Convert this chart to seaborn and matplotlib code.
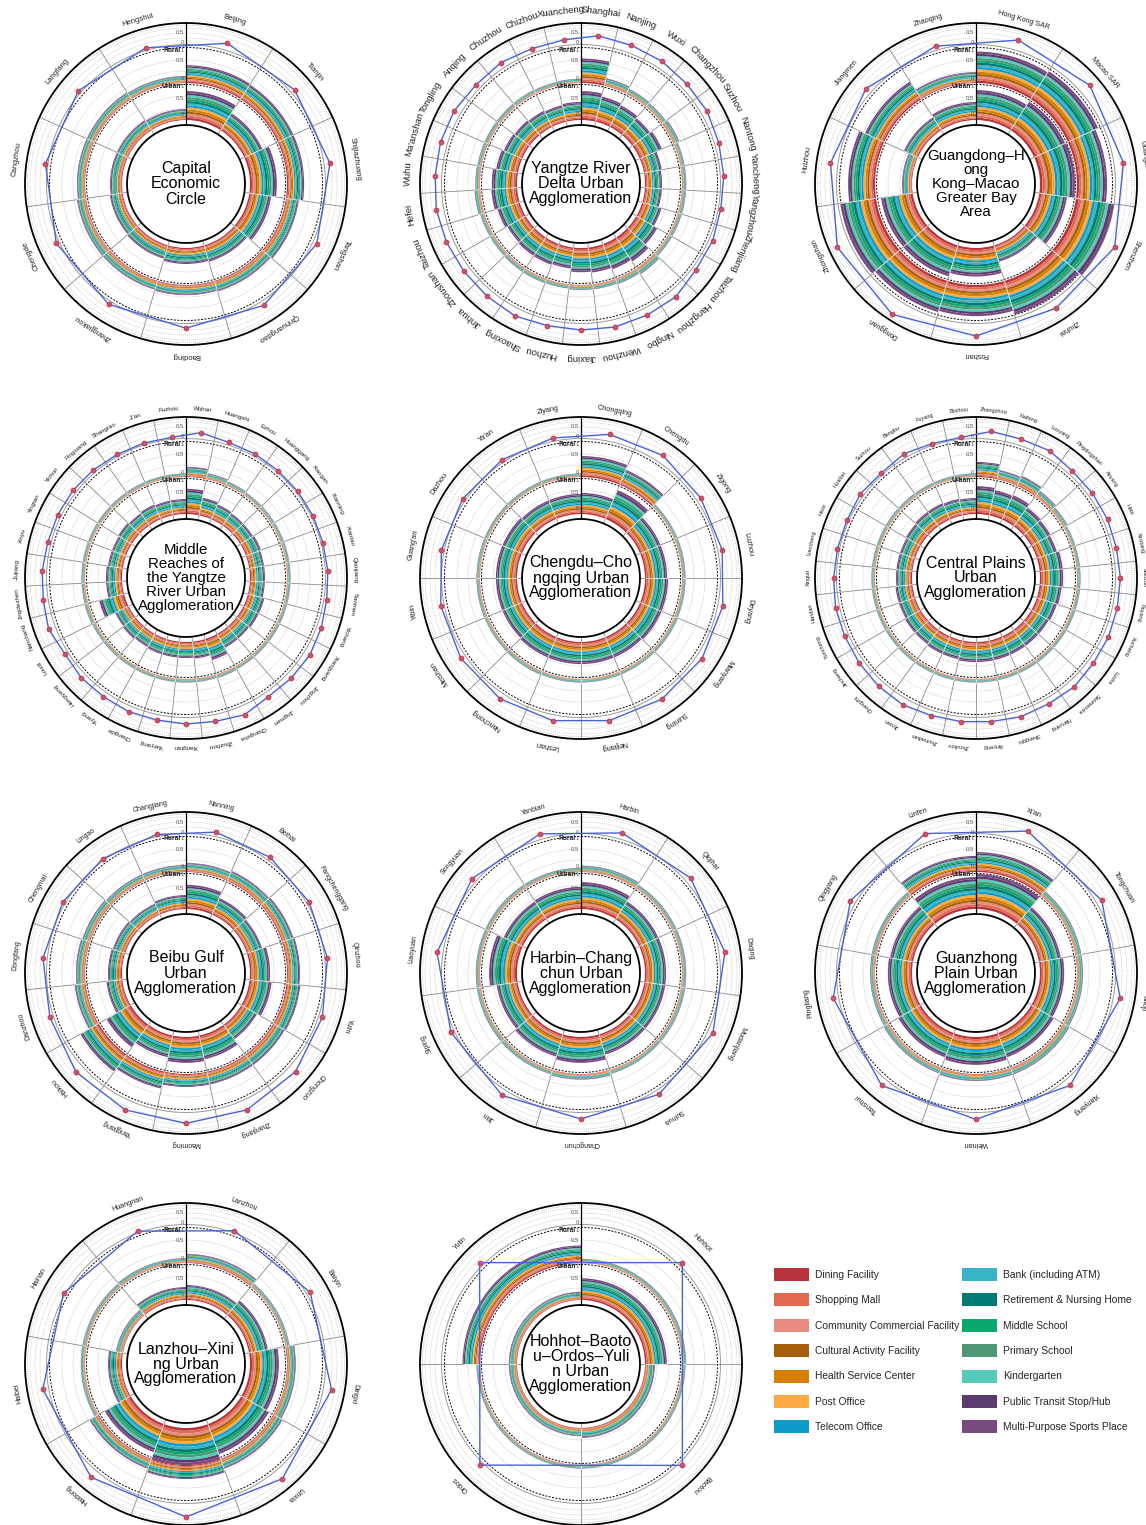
import numpy as np
import matplotlib
matplotlib.use("Agg")
import matplotlib.pyplot as plt
from matplotlib.patches import Patch
import seaborn as sns

# ---------------- facility legend ----------------
FACILITIES = ["Dining Facility", "Shopping Mall", "Community Commercial Facility",
              "Cultural Activity Facility", "Health Service Center", "Post Office",
              "Telecom Office", "Bank (including ATM)", "Retirement & Nursing Home",
              "Middle School", "Primary School", "Kindergarten",
              "Public Transit Stop/Hub", "Multi-Purpose Sports Place"]
FACILITY_COLORS = ["#B8333A", "#E0694F", "#E98B80", "#A65F0C", "#D67F00", "#FDAA42",
                   "#0C9BCB", "#37B5C6", "#007A72", "#0BA86E", "#4D9676", "#55CBB9",
                   "#5B3A6E", "#784A80"]
# share of each facility in a city's stacked score (read as nearly equal layers)
FACILITY_SHARE = [0.075, 0.07, 0.07, 0.07, 0.075, 0.075, 0.07,
                  0.07, 0.075, 0.07, 0.07, 0.07, 0.07, 0.07]

# ---------------- data per agglomeration ----------------
CAP_TITLE = "Capital\nEconomic\nCircle"
CAP_CITIES = ["Beijing", "Tianjin", "Shijiazhuang", "Tangshan", "Qinhuangdao", "Baoding",
              "Zhangjiakou", "Chengde", "Cangzhou", "Langfang", "Hengshui"]
CAP_URBAN = [0.85, 0.59, 0.79, 0.65, 0.50, 0.47, 0.41, 0.38, 0.35, 0.35, 0.32]
CAP_RURAL = [0.51, 0.49, 0.49, 0.37, 0.31, 0.29, 0.26, 0.26, 0.23, 0.23, 0.20]
CAP_COMPOSITE = [0.28, 0.14, 0.22, 0.14, 0.16, 0.16, 0.10, 0.08, 0.05, 0.07, 0.05]

YRD_TITLE = "Yangtze River\nDelta Urban\nAgglomeration"
YRD_CITIES = ["Shanghai", "Nanjing", "Wuxi", "Changzhou", "Suzhou", "Nantong", "Yancheng",
              "Yangzhou", "Zhenjiang", "Taizhou", "Hangzhou", "Ningbo", "Wenzhou", "Jiaxing",
              "Huzhou", "Shaoxing", "Jinhua", "Zhoushan", "Taizhou", "Hefei", "Wuhu",
              "Ma'anshan", "Tongling", "Anqing", "Chuzhou", "Chizhou", "Xuancheng"]
YRD_URBAN = [0.85, 0.76, 0.71, 0.65, 0.71, 0.53, 0.50, 0.50, 0.59, 0.71, 0.85, 0.79, 0.74,
             0.71, 0.62, 0.65, 0.65, 0.62, 0.68, 0.76, 0.74, 0.65, 0.59, 0.56, 0.53, 0.50, 0.53]
YRD_RURAL = [0.70, 0.22, 0.16, 0.14, 0.18, 0.12, 0.12, 0.12, 0.12, 0.12, 0.20, 0.16, 0.14,
             0.14, 0.12, 0.13, 0.13, 0.12, 0.12, 0.16, 0.13, 0.12, 0.12, 0.12, 0.12, 0.11, 0.12]
YRD_COMPOSITE = [0.41, 0.33, 0.30, 0.23, 0.23, 0.14, 0.10, 0.05, 0.12, 0.12, 0.32, 0.29, 0.30,
                 0.25, 0.23, 0.33, 0.27, 0.25, 0.28, 0.30, 0.25, 0.28, 0.27, 0.17, 0.22, 0.15, 0.21]

GBA_TITLE = "Guangdong\u2013H\nong\nKong\u2013Macao\nGreater Bay\nArea"
GBA_CITIES = ["Hong Kong SAR", "Macao SAR", "Guangzhou", "Shenzhen", "Zhuhai", "Foshan",
              "Dongguan", "Zhongshan", "Huizhou", "Jiangmen", "Zhaoqing"]
GBA_URBAN = [0.88, 1.00, 1.03, 0.82, 0.50, 0.84, 0.95, 0.94, 0.29, 0.45, 0.53]
GBA_RURAL = [0.90, 0.95, 0.86, 1.10, 1.00, 0.89, 0.93, 1.03, 0.77, 0.60, 0.31]
GBA_COMPOSITE = [0.45, 0.48, 0.40, 0.57, 0.34, 0.55, 0.70, 0.57, 0.30, 0.23, 0.13]

MYR_TITLE = "Middle\nReaches of\nthe Yangtze\nRiver Urban\nAgglomeration"
MYR_CITIES = ["Wuhan", "Huangshi", "Ezhou", "Huanggang", "Xiaogan", "Xianning", "Xiantao",
              "Qianjiang", "Tianmen", "Yichang", "Xiangyang", "Jingzhou", "Jingmen", "Changsha",
              "Zhuzhou", "Xiangtan", "Yueyang", "Changde", "Yiyang", "Hengyang", "Loudi",
              "Nanchang", "Jingdezhen", "Jiujiang", "Xinyu", "Yingtan", "Yichun", "Pingxiang",
              "Shangrao", "Ji'an", "Fuzhou"]
MYR_URBAN = [0.74, 0.53, 0.47, 0.44, 0.44, 0.47, 0.44, 0.44, 0.44, 0.50, 0.50, 0.47, 0.47,
             0.65, 0.50, 0.47, 0.47, 0.47, 0.44, 0.47, 0.44, 0.76, 0.47, 0.47, 0.44, 0.44,
             0.47, 0.44, 0.47, 0.44, 0.44]
MYR_RURAL = [0.29, 0.17, 0.12, 0.10, 0.10, 0.10, 0.10, 0.10, 0.10, 0.10, 0.10, 0.10, 0.10,
             0.11, 0.10, 0.10, 0.10, 0.10, 0.10, 0.10, 0.10, 0.11, 0.10, 0.10, 0.10, 0.10,
             0.10, 0.10, 0.10, 0.10, 0.10]
MYR_COMPOSITE = [0.25, 0.06, 0.05, 0.02, 0.02, 0.02, 0.02, 0.05, 0.07, 0.16, 0.24, 0.21, 0.17,
                 0.39, 0.27, 0.25, 0.20, 0.22, 0.18, 0.18, 0.10, 0.28, 0.17, 0.15, 0.09, 0.10,
                 0.10, 0.07, 0.02, 0.02, 0.02]

CY_TITLE = "Chengdu\u2013Cho\nngqing Urban\nAgglomeration"
CY_CITIES = ["Chongqing", "Chengdu", "Zigong", "Luzhou", "Deyang", "Mianyang", "Suining",
             "Neijiang", "Leshan", "Nanchong", "Meishan", "Yibin", "Guang'an", "Dazhou",
             "Ya'an", "Ziyang"]
CY_URBAN = [0.62, 0.92, 0.65, 0.65, 0.68, 0.68, 0.65, 0.65, 0.65, 0.65, 0.62, 0.62, 0.62,
            0.62, 0.59, 0.59]
CY_RURAL = [0.60, 0.46, 0.10, 0.10, 0.10, 0.11, 0.10, 0.10, 0.10, 0.11, 0.10, 0.10, 0.10,
            0.10, 0.10, 0.10]
CY_COMPOSITE = [0.27, 0.32, 0.15, 0.15, 0.18, 0.22, 0.23, 0.22, 0.22, 0.22, 0.18, 0.10, 0.07,
                0.07, 0.06, 0.09]

CP_TITLE = "Central Plains\nUrban\nAgglomeration"
CP_CITIES = ["Zhengzhou", "Kaifeng", "Luoyang", "Pingdingshan", "Anyang", "Hebi", "Xinxiang",
             "Jiaozuo", "Puyang", "Xuchang", "Luohe", "Sanmenxia", "Nanyang", "Shangqiu",
             "Xinyang", "Zhoukou", "Zhumadian", "Jiyuan", "Changzhi", "Jincheng", "Yuncheng",
             "Handan", "Xingtai", "Liaocheng", "Heze", "Huaibei", "Suzhou", "Bengbu",
             "Fuyang", "Bozhou"]
CP_URBAN = [0.82, 0.76, 0.79, 0.68, 0.65, 0.62, 0.68, 0.68, 0.65, 0.62, 0.59, 0.59, 0.59,
            0.59, 0.59, 0.59, 0.56, 0.56, 0.53, 0.53, 0.50, 0.50, 0.47, 0.47, 0.47, 0.50,
            0.53, 0.53, 0.50, 0.47]
CP_RURAL = [0.43, 0.27, 0.31, 0.20, 0.14, 0.10, 0.10, 0.10, 0.10, 0.10, 0.10, 0.10, 0.10,
            0.10, 0.10, 0.10, 0.10, 0.10, 0.10, 0.10, 0.10, 0.10, 0.10, 0.10, 0.10, 0.10,
            0.10, 0.10, 0.10, 0.10]
CP_COMPOSITE = [0.32, 0.25, 0.30, 0.15, 0.15, 0.15, 0.13, 0.17, 0.17, 0.20, 0.20, 0.28, 0.21,
                0.24, 0.17, 0.17, 0.18, 0.27, 0.23, 0.17, 0.13, 0.13, 0.07, 0.03, 0.02, 0.10,
                0.02, 0.13, 0.02, 0.02]

BG_TITLE = "Beibu Gulf\nUrban\nAgglomeration"
BG_CITIES = ["Nanning", "Beihai", "Fangchenggang", "Qinzhou", "Yulin", "Chongzuo", "Zhanjiang",
             "Maoming", "Yangjiang", "Haikou", "Danzhou", "Dongfang", "Chengmai", "Lingao",
             "Changjiang"]
BG_URBAN = [0.71, 0.53, 0.47, 0.59, 0.65, 0.53, 0.71, 0.76, 0.65, 0.82, 0.47, 0.41, 0.38,
            0.35, 0.41]
BG_RURAL = [0.26, 0.31, 0.34, 0.37, 0.40, 0.37, 0.37, 0.37, 0.49, 0.60, 0.31, 0.26, 0.23,
            0.20, 0.20]
BG_COMPOSITE = [0.15, 0.10, 0.06, 0.06, 0.12, 0.32, 0.44, 0.47, 0.44, 0.35, 0.11, 0.14, 0.06,
                0.02, 0.03]

HC_TITLE = "Harbin\u2013Chang\nchun Urban\nAgglomeration"
HC_CITIES = ["Harbin", "Qiqihar", "Daqing", "Mudanjiang", "Suihua", "Changchun", "Jilin",
             "Siping", "Liaoyuan", "Songyuan", "Yanbian"]
HC_URBAN = [0.79, 0.62, 0.62, 0.62, 0.62, 0.76, 0.68, 0.62, 0.82, 0.62, 0.65]
HC_RURAL = [0.18, 0.12, 0.12, 0.12, 0.12, 0.16, 0.13, 0.12, 0.12, 0.12, 0.12]
HC_COMPOSITE = [0.25, 0.20, 0.22, 0.20, 0.16, 0.25, 0.23, 0.10, 0.22, 0.16, 0.20]

GZ_TITLE = "Guanzhong\nPlain Urban\nAgglomeration"
GZ_CITIES = ["Xi'an", "Tongchuan", "Baoji", "Xianyang", "Weinan", "Tianshui", "Pingliang",
             "Qingyang", "Linfen"]
GZ_URBAN = [1.03, 0.65, 0.71, 0.76, 0.82, 0.76, 0.71, 0.68, 0.94]
GZ_RURAL = [0.57, 0.17, 0.17, 0.20, 0.20, 0.17, 0.14, 0.14, 0.46]
GZ_COMPOSITE = [0.50, 0.21, 0.27, 0.28, 0.27, 0.29, 0.20, 0.20, 0.37]

LX_TITLE = "Lanzhou\u2013Xini\nng Urban\nAgglomeration"
LX_CITIES = ["Lanzhou", "Baiyin", "Dingxi", "Linxia", "Xining", "Haidong", "Haibei",
             "Hainan", "Huangnan"]
LX_URBAN = [0.44, 0.56, 0.85, 0.94, 1.09, 0.88, 0.41, 0.21, 0.38]
LX_RURAL = [0.26, 0.12, 0.25, 0.30, 0.40, 0.30, 0.12, 0.12, 0.14]
LX_COMPOSITE = [0.04, 0.12, 0.34, 0.44, 0.60, 0.34, 0.22, 0.02, 0.02]

HB_TITLE = "Hohhot\u2013Baoto\nu\u2013Ordos\u2013Yuli\nn Urban\nAgglomeration"
HB_CITIES = ["Hohhot", "Baotou", "Ordos", "Yulin"]
HB_URBAN = [0.64, 0.29, 0.24, 0.24]
HB_RURAL = [0.12, 0.10, 0.10, 0.50]
HB_COMPOSITE = [0.12, 0.12, 0.10, 0.12]

# ---------------- styling / geometry ----------------
sns.set_theme(style="white")
plt.rcParams["font.family"] = ["Liberation Sans", "DejaVu Sans"]
palette = sns.color_palette(FACILITY_COLORS)

W, H = 1146, 1525
R_OUT = 161
HOLE = 59
URB_BASE, URB_UNIT = 64, 34
RUR_BASE, RUR_UNIT = 101, 35
CMP_BASE, CMP_UNIT = 141, 20

fig = plt.figure(figsize=(W / 100, H / 100), dpi=100)
fig.patch.set_facecolor("white")

TT = np.linspace(0, 2 * np.pi, 721)


def circle(ax, r, **kw):
    ax.plot(TT, np.full_like(TT, r), **kw)


def draw_panel(cx, cy, title, cities, urban, rural, comp, label_fs, title_fs=11.5):
    ax = fig.add_axes([(cx - R_OUT) / W, (H - cy - R_OUT) / H, 2 * R_OUT / W, 2 * R_OUT / H],
                      projection="polar")
    ax.set_theta_zero_location("N")
    ax.set_theta_direction(-1)
    ax.set_ylim(0, R_OUT)
    ax.set_xticks([])
    ax.set_yticks([])
    ax.grid(False)
    ax.set_facecolor("white")
    ax.spines["polar"].set_color("black")
    ax.spines["polar"].set_linewidth(1.3)

    n = len(cities)
    width = 2 * np.pi / n
    theta = np.arange(n) * width + width / 2

    # background rings
    for r in [76, 88, 113, 124, 146, 151, 156]:
        circle(ax, r, color="#b8b8b8", lw=0.5, ls=(0, (1.2, 1.6)), zorder=1)
    circle(ax, 139.5, color="#9a9a9a", lw=0.7, zorder=1)
    circle(ax, 158.5, color="#b0b0b0", lw=0.5, ls=(0, (1.2, 1.6)), zorder=1)
    circle(ax, 99.5, color="black", lw=0.7, ls=(0, (2, 1.5)), zorder=1)
    circle(ax, 136.5, color="black", lw=0.7, ls=(0, (2, 1.5)), zorder=1)

    # sector boundaries
    for k in range(n):
        b = k * width
        ax.plot([b, b], [HOLE, R_OUT], color="#8a8a8a", lw=0.6, zorder=1)

    # stacked facility bars
    urban = np.asarray(urban, float)
    rural = np.asarray(rural, float)
    bu = np.full(n, URB_BASE, float)
    br = np.full(n, RUR_BASE, float)
    for share, col in zip(FACILITY_SHARE, palette):
        hu = urban * share * URB_UNIT
        ax.bar(theta, hu, width=width, bottom=bu, color=col, linewidth=0, zorder=2)
        bu += hu
    for share, col in zip(FACILITY_SHARE, palette):
        hr = rural * share * RUR_UNIT
        ax.bar(theta, hr, width=width, bottom=br, color=col, linewidth=0, zorder=2)
        br += hr
    # light separators inside stacks
    for k in range(n):
        b = k * width
        p = (k - 1) % n
        ax.plot([b, b], [URB_BASE, max(bu[k], bu[p])], color="#f2f2f2", lw=0.6, zorder=3)
        ax.plot([b, b], [RUR_BASE, max(br[k], br[p])], color="#f2f2f2", lw=0.6, zorder=3)

    # central hole
    ax.bar(0, HOLE, width=2 * np.pi, bottom=0, color="white", linewidth=0, zorder=4)
    circle(ax, HOLE, color="black", lw=1.3, zorder=5)

    # radial axis line
    ax.plot([0, 0], [HOLE, R_OUT], color="black", lw=0.9, zorder=6)

    # composite radar line
    rc = CMP_BASE + np.asarray(comp, float) * CMP_UNIT
    ax.plot(np.append(theta, theta[0]), np.append(rc, rc[0]), color="#4A62D8", lw=1.0, zorder=7)
    ax.plot(theta, rc, ls="none", marker="o", ms=3.4, mfc="#A8608E", mec="#E0302F",
            mew=0.7, zorder=8)

    # radial tick labels
    ticks = [(70, "0", None), (85, "0.5", None), (98, "1", "Urban"),
             (106, "0", None), (123.5, "0.5", None), (134, "1", "Rural"),
             (141, "0", None), (151, "0.5", None), (163, "1", "Composite")]
    for r, lab, name in ticks:
        ax.annotate(lab, xy=(0, r), xytext=(-1.3, 0), textcoords="offset points",
                    ha="right", va="center", fontsize=4.3, color="#555555", zorder=9)
        if name:
            ax.annotate(name, xy=(0, r), xytext=(-3.8, 0), textcoords="offset points",
                        ha="right", va="center", fontsize=4.8, fontweight="bold",
                        color="#222222", zorder=9)

    # city labels
    label_r = 160 + 2.0 * label_fs
    for t, name in zip(theta, cities):
        deg = np.degrees(t)
        ax.text(t, label_r, name, rotation=-deg, rotation_mode="anchor", ha="center",
                va="center", fontsize=label_fs, color="#222222", zorder=9)

    # title in the hole
    ax.text(0, 0, title, ha="center", va="center", fontsize=title_fs, linespacing=1.0,
            color="black", zorder=10)
    return ax


COLS = [186, 581, 976]
ROWS = [184, 578, 973, 1364]

draw_panel(COLS[0], ROWS[0], CAP_TITLE, CAP_CITIES, CAP_URBAN, CAP_RURAL, CAP_COMPOSITE, 5.5)
draw_panel(COLS[1], ROWS[0], YRD_TITLE, YRD_CITIES, YRD_URBAN, YRD_RURAL, YRD_COMPOSITE, 6.8)
draw_panel(COLS[2], ROWS[0], GBA_TITLE, GBA_CITIES, GBA_URBAN, GBA_RURAL, GBA_COMPOSITE, 5.3, 10.8)
draw_panel(COLS[0], ROWS[1], MYR_TITLE, MYR_CITIES, MYR_URBAN, MYR_RURAL, MYR_COMPOSITE, 4.5, 10.8)
draw_panel(COLS[1], ROWS[1], CY_TITLE, CY_CITIES, CY_URBAN, CY_RURAL, CY_COMPOSITE, 5.3)
draw_panel(COLS[2], ROWS[1], CP_TITLE, CP_CITIES, CP_URBAN, CP_RURAL, CP_COMPOSITE, 4.0)
draw_panel(COLS[0], ROWS[2], BG_TITLE, BG_CITIES, BG_URBAN, BG_RURAL, BG_COMPOSITE, 5.0)
draw_panel(COLS[1], ROWS[2], HC_TITLE, HC_CITIES, HC_URBAN, HC_RURAL, HC_COMPOSITE, 5.0)
draw_panel(COLS[2], ROWS[2], GZ_TITLE, GZ_CITIES, GZ_URBAN, GZ_RURAL, GZ_COMPOSITE, 5.2)
draw_panel(COLS[0], ROWS[3], LX_TITLE, LX_CITIES, LX_URBAN, LX_RURAL, LX_COMPOSITE, 5.2)
draw_panel(COLS[1], ROWS[3], HB_TITLE, HB_CITIES, HB_URBAN, HB_RURAL, HB_COMPOSITE, 5.2)

# legend
handles = [Patch(facecolor=c, edgecolor="none") for c in palette]
fig.legend(handles, FACILITIES, loc="upper left", bbox_to_anchor=(774 / W, 1 - 1268 / H),
           ncol=2, frameon=False, fontsize=7.4, handlelength=3.4, handleheight=1.55,
           labelspacing=1.22, handletextpad=0.55, columnspacing=0.35, borderpad=0,
           borderaxespad=0)

fig.savefig("out.png", dpi=100, facecolor="white")
